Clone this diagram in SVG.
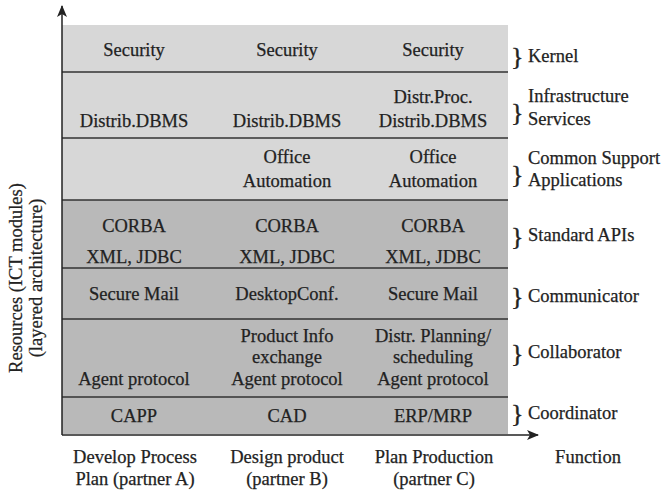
<svg xmlns="http://www.w3.org/2000/svg" width="670" height="491" viewBox="0 0 670 491">
<defs>
<marker id="ah" markerWidth="12" markerHeight="10" refX="11" refY="5" orient="auto" markerUnits="userSpaceOnUse">
<path d="M0,0 L12,5 L0,10 L3,5 Z" fill="#222"/>
</marker>
</defs>
<style>
text{font-family:"Liberation Serif","Times New Roman",serif;font-size:18.5px;fill:#222;stroke:#222;stroke-width:0.25;}
.c{text-anchor:middle;}
.br{font-size:26px;stroke-width:0.4;}
.light{fill:#d7d7d7;}
.dark{fill:#b9b9b9;}
.sep{stroke:#333;stroke-width:1.5;}
.ax{stroke:#222;stroke-width:1.5;fill:none;}
</style>
<rect width="670" height="491" fill="#ffffff"/>
<g id="layers">
<rect class="light" x="62" y="25" width="446" height="175"/>
<rect class="dark" x="62" y="200" width="446" height="234"/>
<line class="sep" x1="62" y1="72" x2="508" y2="72"/>
<line class="sep" x1="62" y1="138" x2="508" y2="138"/>
<line class="sep" x1="62" y1="200" x2="508" y2="200"/>
<line class="sep" x1="62" y1="268" x2="508" y2="268"/>
<line class="sep" x1="62" y1="319" x2="508" y2="319"/>
<line class="sep" x1="62" y1="397" x2="508" y2="397"/>
</g>
<g id="kernel">
<text class="c" x="134" y="56">Security</text>
<text class="c" x="287" y="56">Security</text>
<text class="c" x="433" y="56">Security</text>
<text class="br" x="511" y="65">}</text>
<text x="528" y="62">Kernel</text>
</g>
<g id="infrastructure">
<text class="c" x="134" y="127">Distrib.DBMS</text>
<text class="c" x="287" y="127">Distrib.DBMS</text>
<text class="c" x="433" y="103">Distr.Proc.</text>
<text class="c" x="433" y="127">Distrib.DBMS</text>
<text class="br" x="511" y="121">}</text>
<text x="528" y="102">Infrastructure</text>
<text x="528" y="125">Services</text>
</g>
<g id="common-support">
<text class="c" x="287" y="163">Office</text>
<text class="c" x="287" y="187">Automation</text>
<text class="c" x="433" y="163">Office</text>
<text class="c" x="433" y="187">Automation</text>
<text class="br" x="511" y="183">}</text>
<text x="528" y="164">Common Support</text>
<text x="528" y="186">Applications</text>
</g>
<g id="standard-apis">
<text class="c" x="134" y="232">CORBA</text>
<text class="c" x="134" y="263">XML, JDBC</text>
<text class="c" x="287" y="232">CORBA</text>
<text class="c" x="287" y="263">XML, JDBC</text>
<text class="c" x="433" y="232">CORBA</text>
<text class="c" x="433" y="263">XML, JDBC</text>
<text class="br" x="511" y="245">}</text>
<text x="528" y="241">Standard APIs</text>
</g>
<g id="communicator">
<text class="c" x="134" y="300">Secure Mail</text>
<text class="c" x="287" y="300">DesktopConf.</text>
<text class="c" x="433" y="300">Secure Mail</text>
<text class="br" x="511" y="305">}</text>
<text x="528" y="302">Communicator</text>
</g>
<g id="collaborator">
<text class="c" x="134" y="385">Agent protocol</text>
<text class="c" x="287" y="342">Product Info</text>
<text class="c" x="287" y="363">exchange</text>
<text class="c" x="287" y="385">Agent protocol</text>
<text class="c" x="433" y="342">Distr. Planning/</text>
<text class="c" x="433" y="363">scheduling</text>
<text class="c" x="433" y="385">Agent protocol</text>
<text class="br" x="511" y="362">}</text>
<text x="528" y="358">Collaborator</text>
</g>
<g id="coordinator">
<text class="c" x="134" y="422">CAPP</text>
<text class="c" x="287" y="422">CAD</text>
<text class="c" x="433" y="422">ERP/MRP</text>
<text class="br" x="511" y="422">}</text>
<text x="528" y="419">Coordinator</text>
</g>
<g id="connectors">
<line class="ax" x1="62" y1="435" x2="62" y2="6" marker-end="url(#ah)"/>
<line class="ax" x1="62" y1="435" x2="538" y2="435" marker-end="url(#ah)"/>
</g>
<g id="axis-labels">
<text class="c" transform="translate(22,278) rotate(-90)">Resources (ICT modules)</text>
<text class="c" transform="translate(42,278) rotate(-90)">(layered architecture)</text>
<text class="c" x="135" y="463">Develop Process</text>
<text class="c" x="135" y="485">Plan (partner A)</text>
<text class="c" x="287" y="463">Design product</text>
<text class="c" x="287" y="485">(partner B)</text>
<text class="c" x="434" y="463">Plan Production</text>
<text class="c" x="434" y="485">(partner C)</text>
<text class="c" x="588" y="463">Function</text>
</g>
</svg>
